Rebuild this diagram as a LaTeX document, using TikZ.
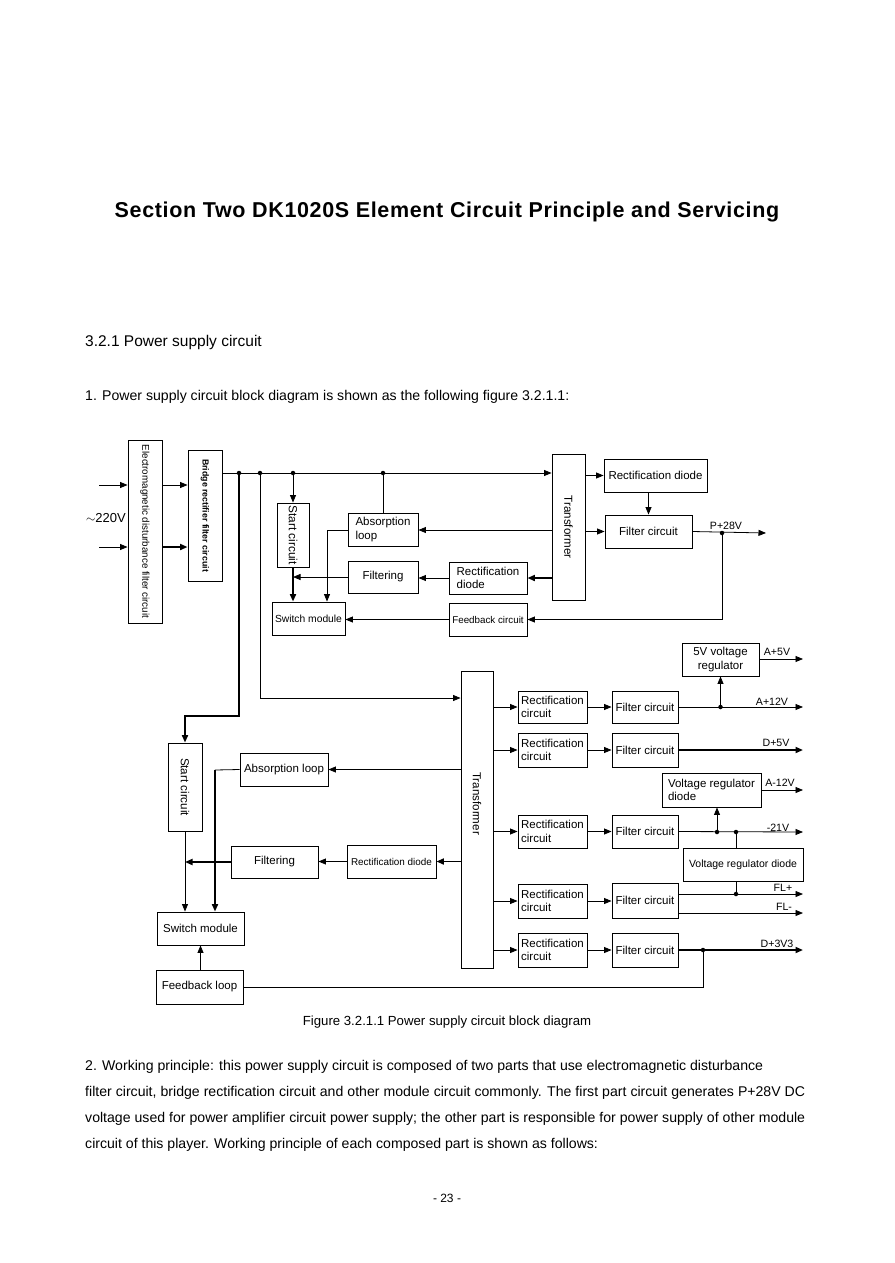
\documentclass[tikz,border=0pt]{standalone}
\usepackage{fontspec}
\setmainfont{Liberation Sans}
\newfontfamily\titlefont[LetterSpace=3]{Liberation Sans}
\usetikzlibrary{arrows.meta}
\newcommand\fsz[2]{\fontsize{#1}{#2}\selectfont}
\newcommand\bx[7][]{\node[box,minimum width={(#5-#3)*1pt},minimum height={(#6-#4)*1pt},#1] (#2) at ({(#3+#5)/2},{(#4+#6)/2}) {#7};}
\begin{document}
\begin{tikzpicture}[x=1pt,y=-1pt,
  box/.style={draw,line width=0.9pt,inner sep=1pt,align=center,font=\fsz{11.5}{13.5}},
  lft/.style={align=left},
  rot/.style={rotate=-90,inner sep=0pt},
  ar/.style={-{Triangle[length=7.5pt,width=6pt]},line width=0.8pt},
  ln/.style={line width=0.8pt},
  thk/.style={line width=1.8pt},
  dot/.style={circle,fill,inner sep=0pt,minimum size=4.5pt},
  lbl/.style={inner sep=0pt,font=\fsz{10.6}{13}},
  body/.style={inner sep=0pt,anchor=west,font=\fsz{14.1}{17}}]
\useasboundingbox[fill=white] (0,0) rectangle (894,1263);

% ---- page texts ----
\node[inner sep=0pt,font=\titlefont\bfseries\fsz{21.5}{24}] (title) at (447,212) {Section Two DK1020S Element Circuit Principle and Servicing};
\node[inner sep=0pt,anchor=west,font=\fsz{15.5}{18}] (sec) at (85,342) {3.2.1 Power supply circuit};
\node[body] (p1) at (85,397) {1. Power supply circuit block diagram is shown as the following figure 3.2.1.1:};
\node[inner sep=0pt,font=\fsz{13.2}{16}] (cap) at (447,1022) {Figure 3.2.1.1 Power supply circuit block diagram};
\node[body] (l1) at (85,1067) {2. Working principle: this power supply circuit is composed of two parts that use electromagnetic disturbance};
\node[body] (l2) at (85,1093) {\makebox[720pt][s]{filter circuit, bridge rectification circuit and other module circuit commonly. The first part circuit generates P+28V DC}};
\node[body] (l3) at (85,1119) {\makebox[720pt][s]{voltage used for power amplifier circuit power supply; the other part is responsible for power supply of other module}};
\node[body] (l4) at (85,1145) {circuit of this player. Working principle of each composed part is shown as follows:};
\node[inner sep=0pt,font=\fsz{12}{14}] (pg) at (447,1198) {- 23 -};

% ---- boxes, upper part ----
\bx{emi}{128}{440}{162}{623}{}
\node[rot,font=\fsz{9.8}{11}] (emit) at (emi.center) {Electromagnetic disturbance filter circuit};
\bx{bridge}{188}{450}{222}{581}{}
\node[rot,font=\bfseries\fsz{8.8}{10}] (bridget) at (bridge.center) {Bridge rectifier filter circuit};
\bx{start1}{277}{503}{309}{567}{}
\node[rot,font=\fsz{11.8}{13}] (start1t) at (start1.center) {Start circuit};
\bx[font=\fsz{10.3}{12}]{sw1}{272}{602}{345}{635}{Switch module}
\bx[lft]{abs1}{348}{513}{418}{546}{Absorption\\loop}
\bx{filt1}{348}{561}{418}{593}{Filtering}
\bx[lft]{rd1}{449}{562}{527}{594}{Rectification\\diode}
\bx[font=\fsz{9.8}{12}]{fb1}{449}{603}{527}{636}{Feedback circuit}
\bx{tr1}{552}{454}{585}{600}{}
\node[rot,font=\fsz{11.6}{13}] (tr1t) at (tr1.center) {Transformer};
\bx{rdtop}{604}{459}{707}{492}{Rectification diode}
\bx{fctop}{605}{515}{692}{548}{Filter circuit}

% ---- boxes, lower part ----
\bx{tr2}{461}{671}{493}{968}{}
\node[rot,font=\fsz{11.6}{13}] (tr2t) at ([yshift=16pt]tr2.center) {Transformer};
\bx{start2}{168}{743}{202}{831}{}
\node[rot,font=\fsz{11.6}{13}] (start2t) at (start2.center) {Start circuit};
\bx{abs2}{240}{753}{328}{786}{Absorption loop}
\bx{filt2}{231}{846}{318}{878}{Filtering}
\bx[font=\fsz{9.9}{12}]{rd2}{347}{845}{436}{878}{Rectification diode}
\bx{sw2}{157}{912}{244}{945}{Switch module}
\bx{fbl}{156}{970}{243}{1004}{Feedback loop}

\bx[lft]{rc1}{518}{691}{587}{723}{Rectification\\circuit}
\bx[lft]{rc2}{518}{733}{587}{767}{Rectification\\circuit}
\bx[lft]{rc3}{518}{815}{587}{848}{Rectification\\circuit}
\bx[lft]{rc4}{518}{884}{587}{918}{Rectification\\circuit}
\bx[lft]{rc5}{518}{933}{587}{967}{Rectification\\circuit}
\bx{fc1}{612}{691}{678}{723}{Filter circuit}
\bx{fc2}{612}{733}{678}{767}{Filter circuit}
\bx{fc3}{612}{815}{678}{848}{Filter circuit}
\bx{fc4}{612}{883}{678}{918}{Filter circuit}
\bx{fc5}{612}{933}{678}{967}{Filter circuit}
\bx{reg5}{682}{643}{759}{676}{5V voltage\\regulator}
\bx[lft]{vrd1}{662}{773}{761}{807}{Voltage regulator\\diode}
\bx[font=\fsz{10.5}{12}]{vrd2}{683}{848}{803}{881}{Voltage regulator diode}

% ---- coordinates and dots ----
\coordinate (in1) at (99,485);
\coordinate (in2) at (99,547);
\node[dot] (d1) at (239,473) {};
\node[dot] (d2) at (260,473) {};
\node[dot] (d3) at (293,473) {};
\node[dot] (d4) at (383,473) {};
\node[dot] (p28) at (722,533) {};
\coordinate (o28) at (766,533);
\coordinate (k1) at (239,716);
\coordinate (k2) at (260,698);
\coordinate (ka) at (327,530);
\coordinate (k3) at (215,770);
\node[dot] (da) at (720.5,707) {};
\node[dot] (dm1) at (717,832) {};
\node[dot] (dm2) at (736,832) {};
\node[dot] (dfl) at (736,894) {};
\node[dot] (d33) at (703,950) {};
\coordinate (kfb) at (703,987);
\coordinate (kfl) at (678,913);
\coordinate (oa5) at (803,659);
\coordinate (oa12) at (803,707);
\coordinate (od5) at (803,750);
\coordinate (oam12) at (803,790);
\coordinate (o21) at (803,832);
\coordinate (oflp) at (803,894);
\coordinate (oflm) at (803,913);
\coordinate (o33) at (803,950);

% ---- labels ----
\node[inner sep=0pt,font=\fsz{13}{15}] (v220) at (106,518) {$\sim$220V};
\node[lbl] (lp28) at (726,526) {P+28V};
\node[lbl] (la5) at (777,652) {A+5V};
\node[lbl] (la12) at (772,702) {A+12V};
\node[lbl] (ld5) at (776,743) {D+5V};
\node[lbl] (lam12) at (780,783) {A-12V};
\node[lbl] (l21) at (778,828) {-21V};
\node[lbl] (lflp) at (783,888) {FL+};
\node[lbl] (lflm) at (784,907) {FL-};
\node[lbl] (l33) at (777,944) {D+3V3};

% ---- connectors, upper ----
\draw[ar] (in1) -- (emi.west |- in1);
\draw[ar] (in2) -- (emi.west |- in2);
\draw[ar] (emi.east |- in1) -- (bridge.west |- in1);
\draw[ar,thk] (emi.east |- in2) -- (bridge.west |- in2);
\draw[ar] (bridge.east |- d1) -- (tr1.west |- d1);
\draw[ar] (d3) -- (start1.north);
\draw[ar,thk] (start1.south) -- (start1.south |- sw1.north);
\draw[ln] (d4) -- (d4 |- abs1.north);
\draw[ar] (abs1.west |- ka) -- (ka) -- (ka |- sw1.north);
\draw[ar] (tr1.west |- ka) -- (abs1.east |- ka);
\draw[ar] (rd1.west) -- (filt1.east |- rd1.west);
\draw[ar] (filt1.west) -- (start1.south |- filt1.west);
\draw[ar,thk] (tr1.west |- rd1.east) -- (rd1.east);
\draw[ar] (fb1.west) -- (sw1.east |- fb1.west);
\draw[ar] (p28) |- (fb1.east);
\draw[ar] (tr1.east |- rdtop.west) -- (rdtop.west);
\draw[ar] (fctop.north |- rdtop.south) -- (fctop.north);
\draw[ar] (tr1.east |- fctop.west) -- (fctop.west);
\draw[ar] (fctop.east) -- (o28);

% ---- connectors, lower ----
\draw[ar,thk] (d1) -- (k1) -| (start2.north);
\draw[ar] (d2) -- (k2) -- (tr2.west |- k2);
\draw[ar] (tr2.west |- abs2.east) -- (abs2.east);
\draw[ln] (abs2.west) -- (k3);
\draw[ar,thk] (k3) -- (k3 |- sw2.north);
\draw[ar] (start2.south) -- (start2.south |- sw2.north);
\draw[ar,thk] (tr2.west |- rd2.east) -- (rd2.east);
\draw[ar] (rd2.west) -- (filt2.east |- rd2.west);
\draw[ar,thk] (filt2.west) -- (start2.south |- filt2.west);
\draw[ar] (fbl.north -| sw2.south) -- (sw2.south);
\draw[ln] (fbl.east |- kfb) -- (kfb) -- (d33);

\foreach \i in {1,...,5}{
  \draw[ar] (tr2.east |- rc\i.west) -- (rc\i.west);
  \draw[ar] (rc\i.east) -- (fc\i.west |- rc\i.east);
}
\draw[ar] (fc1.east) -- (oa12);
\draw[ar] (da) -- (da |- reg5.south);
\draw[ar] (reg5.east |- oa5) -- (oa5);
\draw[ar,thk] (fc2.east) -- (od5);
\draw[ar] (vrd1.east |- oam12) -- (oam12);
\draw[ar] (fc3.east) -- (o21);
\draw[ar] (dm1) -- (dm1 |- vrd1.south);
\draw[ln] (dm2) -- (dm2 |- vrd2.north);
\draw[ln] (dm2 |- vrd2.south) -- (dfl);
\draw[ar] (fc4.east |- dfl) -- (oflp);
\draw[ar] (kfl) -- (oflm);
\draw[ar,thk] (fc5.east) -- (o33);
\end{tikzpicture}
\end{document}
